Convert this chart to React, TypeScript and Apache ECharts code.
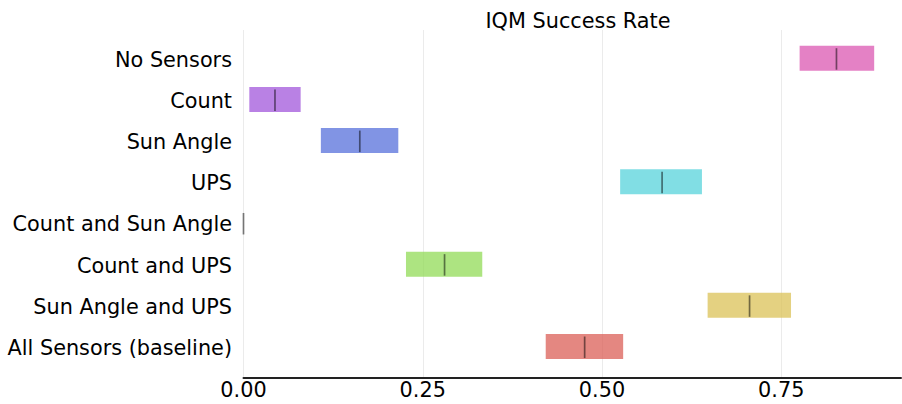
import React, { useEffect, useRef } from "react";
import * as echarts from "echarts";

const categories = [
  "No Sensors",
  "Count",
  "Sun Angle",
  "UPS",
  "Count and Sun Angle",
  "Count and UPS",
  "Sun Angle and UPS",
  "All Sensors (baseline)",
];
const lower = [0.7756, 0.0081, 0.1079, 0.5253, 0.0, 0.2266, 0.6473, 0.4215];
const upper = [0.8796, 0.0797, 0.2159, 0.6394, 0.0, 0.333, 0.7636, 0.5295];
const median = [0.827, 0.0439, 0.1622, 0.5838, 0.0, 0.2804, 0.7058, 0.4758];
const colors = ["#db57b2", "#a157db", "#5770db", "#57d3db", "#57db80", "#91db57", "#dbc257", "#db5f57"];
const xTicks = [0, 0.25, 0.5, 0.75];

const FONT = "DejaVu Sans";
const FS = 20.8;

export default function App() {
  const ref = useRef<HTMLDivElement>(null);
  useEffect(() => {
    if (!ref.current) return;
    const chart = echarts.init(ref.current, undefined, { renderer: "svg" });
    const data = categories.map((c, i) => [lower[i], upper[i], median[i], i]);
    chart.setOption({
      animation: false,
      title: {
        text: "IQM Success Rate",
        left: 573,
        top: 5,
        textAlign: "center",
        textStyle: { fontSize: FS, fontWeight: "normal", fontFamily: FONT, color: "#000" },
      },
      grid: { left: 243.5, right: 1, top: 30, bottom: 26, containLabel: false },
      xAxis: {
        type: "value",
        min: 0,
        max: 0.917,
        interval: 0.25,
        axisLine: { show: true, onZero: false, lineStyle: { color: "#222", width: 2 } },
        axisTick: { show: false },
        axisLabel: {
          fontSize: FS,
          color: "#000",
          fontFamily: FONT,
          margin: 1.5,
          showMaxLabel: false,
          formatter: (v: number) => (xTicks.some((t) => Math.abs(t - v) < 1e-6) ? v.toFixed(2) : ""),
        },
        splitLine: { show: true, showMaxLine: false, lineStyle: { color: "#ebebeb", width: 1 } },
      },
      yAxis: {
        type: "value",
        min: -0.685,
        max: 7.764,
        inverse: true,
        show: false,
        splitLine: { show: false },
      },
      series: [
        {
          type: "custom",
          clip: false,
          encode: { x: [0, 1, 2], y: 3 },
          data,
          renderItem: (params: any, api: any) => {
            const i = api.value(3);
            const p0 = api.coord([api.value(0), i]);
            const p1 = api.coord([api.value(1), i]);
            const pm = api.coord([api.value(2), i]);
            const base = api.coord([0, i]);
            const h = api.size([0, 0.607])[1];
            return {
              type: "group",
              children: [
                {
                  type: "rect",
                  shape: { x: p0[0], y: p0[1] - h / 2, width: p1[0] - p0[0], height: h },
                  style: { fill: colors[i], opacity: 0.75 },
                },
                {
                  type: "line",
                  shape: { x1: pm[0], y1: p0[1] - h / 2 + 2.5, x2: pm[0], y2: p0[1] + h / 2 - 1 },
                  style: { stroke: "rgba(0,0,0,0.5)", lineWidth: 1.7 },
                },
                {
                  type: "text",
                  style: {
                    text: categories[i],
                    x: base[0] - 11.5,
                    y: p0[1] + 1.5,
                    align: "right",
                    verticalAlign: "middle",
                    fontSize: FS,
                    fontFamily: FONT,
                    fill: "#000",
                  },
                },
              ],
            };
          },
        },
      ],
    });
    return () => chart.dispose();
  }, []);
  return (
    <div
      ref={ref}
      style={{ position: "fixed", left: 0, top: 0, width: 902, height: 404, background: "#fff" }}
    />
  );
}
